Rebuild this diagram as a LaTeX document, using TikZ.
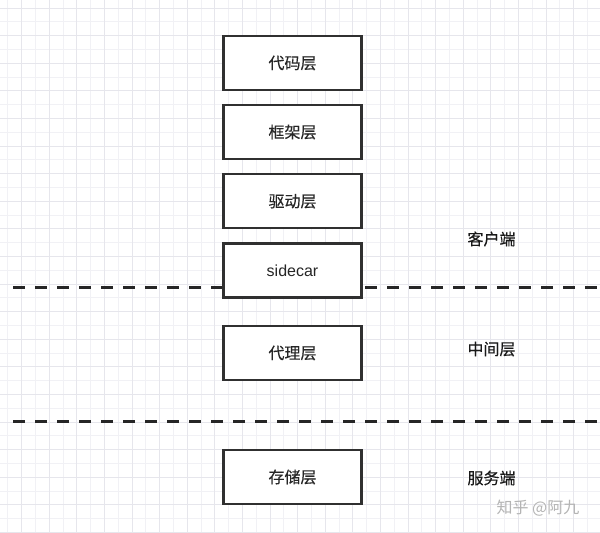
\documentclass[tikz,border=0pt]{standalone}
\usepackage{fontspec}
\setmainfont{Liberation Sans}
\newfontfamily\cjk[FakeBold=0.3]{Noto Sans CJK SC}
\newfontfamily\cjkfino{Noto Sans CJK SC}
\definecolor{rejilla}{HTML}{F1F1F5}
\definecolor{rejillafuerte}{HTML}{E6E6EC}
\definecolor{borde}{HTML}{303030}
\definecolor{marca}{HTML}{B4B4B4}
\tikzset{
    capa/.style={draw=borde,line width=2.2pt,fill=white,minimum width=138pt,minimum height=54pt,
        font=\fontsize{16}{19}\selectfont\cjk,text=black!85},
    zona/.style={font=\fontsize{16}{19}\selectfont\cjk,text=black!90},
    limite/.style={draw=black!85,line width=3pt,dash pattern=on 12pt off 10pt}
}
\begin{document}
\begin{tikzpicture}[x=1pt,y=-1pt]
        \useasboundingbox[fill=white] (0,0) rectangle (600,533);
        %Cuadricula
        \begin{scope}[line width=1pt]
            \foreach \k [evaluate=\k as \gx using {int(7.9+\k*13.8)+0.5}] in {0,...,43}
            \draw[rejilla] (\gx,0) -- (\gx,533);
            \foreach \k [evaluate=\k as \gy using {int(8+\k*13.8)+0.5}] in {0,...,38}
            \draw[rejilla] (0,\gy) -- (600,\gy);
            \foreach \k [evaluate=\k as \gx using {int(21.7+\k*27.6)+0.5}] in {0,...,21}
            \draw[rejillafuerte] (\gx,0) -- (\gx,533);
            \foreach \k [evaluate=\k as \gy using {int(8+\k*27.6)+0.5}] in {0,...,19}
            \draw[rejillafuerte] (0,\gy) -- (600,\gy);
        \end{scope}
        %Lineas de separacion
        \coordinate (sep1 izq) at (13,287.3);
        \coordinate (sep1 der) at (600,287.3);
        \coordinate (sep2 izq) at (13,421);
        \coordinate (sep2 der) at (600,421);
        \draw[limite] (sep1 izq) -- (sep1 der);
        \draw[limite] (sep2 izq) -- (sep2 der);
        %Capas
        \node[capa] (codigo) at (292.5,63) {代码层};
        \node[capa] (marco) at (292.5,132) {框架层};
        \node[capa] (driver) at (292.5,201.3) {驱动层};
        \node[capa,font=\fontsize{16}{19}\selectfont] (sidecar) at (292.5,270.5) {sidecar};
        \node[capa] (proxy) at (292.5,353) {代理层};
        \node[capa] (almacen) at (292.5,477) {存储层};
        %Zonas
        \node[zona] (cliente) at (491.5,239) {客户端};
        \node[zona] (medio) at (491.5,349) {中间层};
        \node[zona] (servidor) at (491.5,478) {服务端};
        \node[font=\fontsize{16}{19}\selectfont\cjkfino,text=marca] (firma) at (538,508) {知乎 @阿九};
    \end{tikzpicture}
\end{document}
